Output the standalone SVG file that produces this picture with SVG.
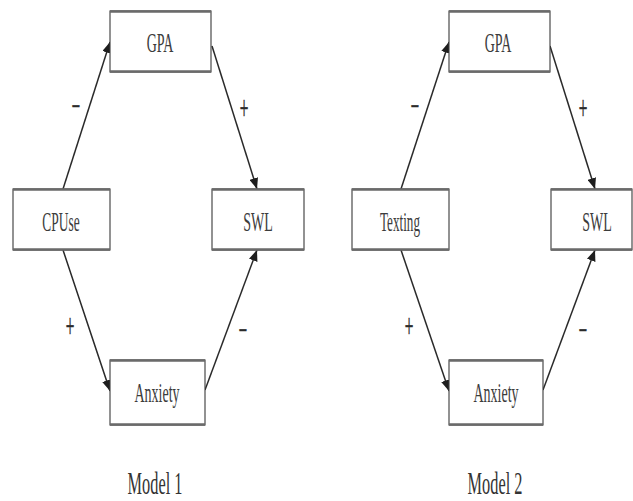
<svg xmlns="http://www.w3.org/2000/svg" width="633" height="501" viewBox="0 0 633 501">
<style>
.box{fill:#fff;stroke:#3a3a3a;stroke-width:1.1}
.rim{stroke:#6a6a6a;stroke-width:2.4;fill:none}
.lbl{font-family:"Liberation Serif","Times New Roman",serif;font-size:28px;fill:#3c3c3c;text-anchor:middle}
.sign{font-family:"Liberation Serif","Times New Roman",serif;font-size:34px;fill:#2a2a2a;stroke:#2a2a2a;stroke-width:0.6;text-anchor:middle}
.title{font-family:"Liberation Serif","Times New Roman",serif;font-size:32px;fill:#333;text-anchor:middle}
.edge{stroke:#2a2a2a;stroke-width:1.5;fill:none;marker-end:url(#ah)}
</style>
<defs>
<marker id="ah" markerUnits="userSpaceOnUse" markerWidth="12" markerHeight="9" refX="11" refY="4.5" orient="auto">
<path d="M0,0 L11,4.5 L0,9 z" fill="#1e1e1e"/>
</marker>
</defs>
<rect width="633" height="501" fill="#fff"/>
<g id="connectors">
<line class="edge" x1="63" y1="189" x2="110" y2="42"/>
<line class="edge" x1="212" y1="46" x2="257" y2="189"/>
<line class="edge" x1="63" y1="250" x2="110" y2="391"/>
<line class="edge" x1="205" y1="390" x2="257" y2="250"/>
<line class="edge" x1="401" y1="189" x2="449" y2="42"/>
<line class="edge" x1="550" y1="46" x2="595" y2="189"/>
<line class="edge" x1="401" y1="250" x2="449" y2="391"/>
<line class="edge" x1="543" y1="390" x2="595" y2="250"/>
<text class="sign" transform="translate(76,114) scale(0.4,1)">–</text>
<text class="sign" transform="translate(244,119) scale(0.45,1)">+</text>
<text class="sign" transform="translate(70,337) scale(0.45,1)">+</text>
<text class="sign" transform="translate(243,338) scale(0.4,1)">–</text>
<text class="sign" transform="translate(415,114) scale(0.4,1)">–</text>
<text class="sign" transform="translate(583,119) scale(0.45,1)">+</text>
<text class="sign" transform="translate(409,337) scale(0.45,1)">+</text>
<text class="sign" transform="translate(583,338) scale(0.4,1)">–</text>
</g>
<g id="m1-gpa">
<rect class="box" x="110" y="11" width="101" height="61"/>
<path class="rim" d="M110,11.5 H211 M110,71.5 H211"/>
<text class="lbl" transform="translate(160,52) scale(0.5,1)">GPA</text>
</g>
<g id="m1-cpuse">
<rect class="box" x="13" y="189" width="97" height="61"/>
<path class="rim" d="M13,189.5 H110 M13,249.5 H110"/>
<text class="lbl" transform="translate(61,231) scale(0.48,1)">CPUse</text>
</g>
<g id="m1-swl">
<rect class="box" x="212" y="189" width="92" height="61"/>
<path class="rim" d="M212,189.5 H304 M212,249.5 H304"/>
<text class="lbl" transform="translate(258,231) scale(0.5,1)">SWL</text>
</g>
<g id="m1-anxiety">
<rect class="box" x="110" y="360" width="95" height="65"/>
<path class="rim" d="M110,360.5 H205 M110,424.5 H205"/>
<text class="lbl" transform="translate(157,402) scale(0.5,1)">Anxiety</text>
</g>
<g id="m2-gpa">
<rect class="box" x="449" y="11" width="101" height="61"/>
<path class="rim" d="M449,11.5 H550 M449,71.5 H550"/>
<text class="lbl" transform="translate(498,52) scale(0.5,1)">GPA</text>
</g>
<g id="m2-texting">
<rect class="box" x="352" y="189" width="97" height="61"/>
<path class="rim" d="M352,189.5 H449 M352,249.5 H449"/>
<text class="lbl" transform="translate(400,231) scale(0.47,1)">Texting</text>
</g>
<g id="m2-swl">
<rect class="box" x="551" y="189" width="81" height="61"/>
<path class="rim" d="M551,189.5 H632 M551,249.5 H632"/>
<text class="lbl" transform="translate(597,231) scale(0.5,1)">SWL</text>
</g>
<g id="m2-anxiety">
<rect class="box" x="449" y="360" width="94" height="65"/>
<path class="rim" d="M449,360.5 H543 M449,424.5 H543"/>
<text class="lbl" transform="translate(496,402) scale(0.5,1)">Anxiety</text>
</g>
<g id="captions">
<text class="title" transform="translate(155,494) scale(0.51,1)">Model 1</text>
<text class="title" transform="translate(495,494) scale(0.51,1)">Model 2</text>
</g>
</svg>
